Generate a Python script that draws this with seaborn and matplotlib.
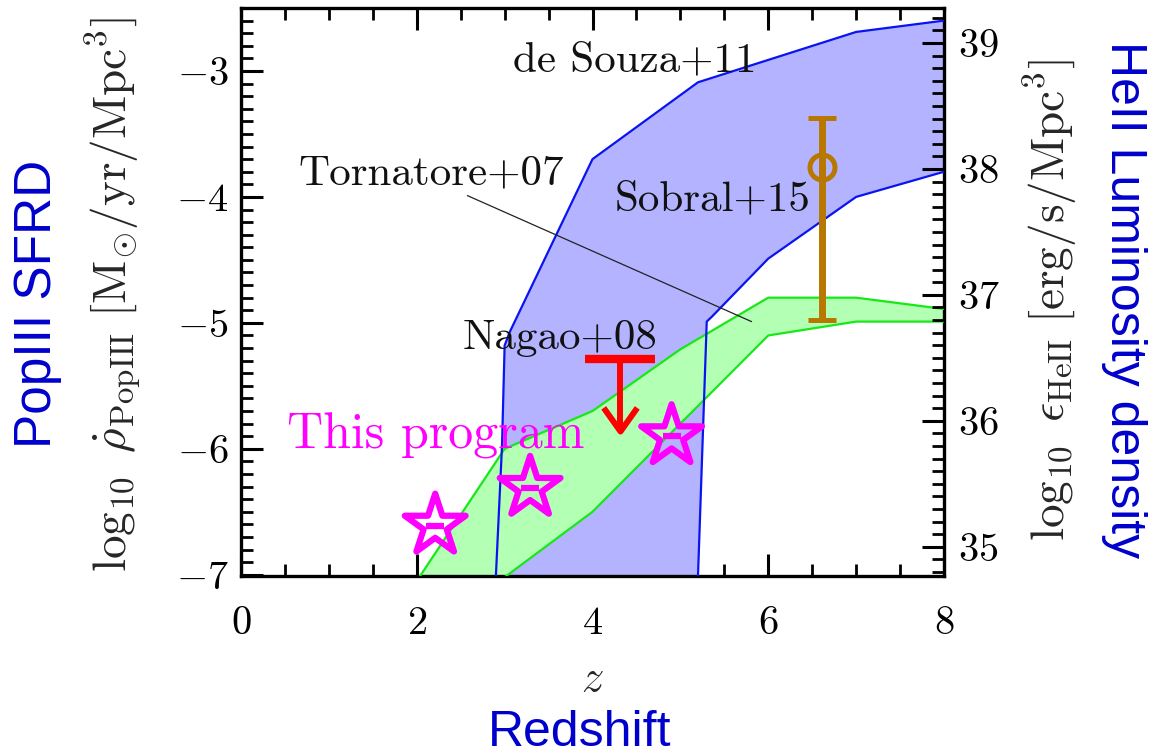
import numpy as np
import matplotlib
matplotlib.use("Agg")
import matplotlib.pyplot as plt
import matplotlib.lines as mlines
from matplotlib.path import Path
from matplotlib.ticker import MultipleLocator
import seaborn as sns

# ---------------- data ----------------
# de Souza+11 band (blue)
souza_upper_z = [2.90, 2.97, 3.00, 3.06, 4.00, 5.20, 7.00, 8.00]
souza_upper_y = [-7.02, -5.98, -5.18, -5.07, -3.70, -3.09, -2.69, -2.60]
souza_lower_z = [5.20, 5.30, 5.36, 6.00, 7.00, 8.00]
souza_lower_y = [-7.02, -4.99, -4.95, -4.49, -4.00, -3.80]

# Tornatore+07 band (green)
torn_upper_z = [2.00, 3.00, 4.00, 5.00, 6.00, 7.00, 8.00]
torn_upper_y = [-7.05, -6.00, -5.70, -5.21, -4.80, -4.80, -4.89]
torn_lower_z = [3.00, 4.00, 5.00, 6.00, 7.00, 8.00]
torn_lower_y = [-7.02, -6.50, -5.80, -5.10, -4.99, -4.99]

# Sobral+15
sobral_z = [6.61]
sobral_y = [-3.76]
sobral_err_lo = [1.22]
sobral_err_hi = [0.39]

# Nagao+08 upper limit
nagao_z = [4.31]
nagao_y = [-5.29]
nagao_arrow = [0.57]

# This program
prog_z = [2.21, 3.29, 4.90]
prog_y = [-6.61, -6.31, -5.90]

# annotations: (text, z, y)
ann_souza = ("de Souza+11", 4.48, -3.00)
ann_torn = ("Tornatore+07", 2.16, -3.90)
ann_torn_tip = (5.81, -4.99)
ann_sobral = ("Sobral+15", 5.37, -4.11)
ann_nagao = ("Nagao+08", 3.63, -5.21)
ann_prog = ("This program", 2.22, -6.00)

x_lim = (0, 8)
y_lim = (-7.01, -2.5)
lum_offset = 41.778   # log eps_HeII = log rho + offset

# ---------------- style ----------------
sns.set_theme(style="ticks")
plt.rcParams["font.family"] = ["cmr10", "DejaVu Serif"]
plt.rcParams["mathtext.fontset"] = "cm"
plt.rcParams["axes.formatter.use_mathtext"] = True
plt.rcParams["axes.unicode_minus"] = True

BLUE_FILL = "#B3B3FF"
BLUE_LINE = "#0A14F0"
GREEN_FILL = "#B3FFB3"
GREEN_LINE = "#18E818"
SOBRAL_C = "#B87800"
NAGAO_C = "#FF0000"
PROG_C = "#FF00FF"
LABEL_BLUE = "#0000CC"

fig = plt.figure(figsize=(11.53, 7.54), dpi=100)
W, H = 1153, 754
ax = fig.add_axes([241 / W, 1 - 576 / H, (944 - 241) / W, (576 - 8) / H])

# bands
ax.fill(np.r_[souza_upper_z, souza_lower_z[::-1]],
        np.r_[souza_upper_y, souza_lower_y[::-1]],
        color=BLUE_FILL, lw=0, zorder=1)
ax.fill(np.r_[torn_upper_z, torn_lower_z[::-1]],
        np.r_[torn_upper_y, torn_lower_y[::-1]],
        color=GREEN_FILL, lw=0, zorder=2)

for zz, yy, c in [(torn_upper_z, torn_upper_y, GREEN_LINE),
                  (torn_lower_z, torn_lower_y, GREEN_LINE),
                  (souza_upper_z, souza_upper_y, BLUE_LINE),
                  (souza_lower_z, souza_lower_y, BLUE_LINE)]:
    sns.lineplot(x=zz, y=yy, sort=False, estimator=None, color=c,
                 lw=1.6, ax=ax, zorder=3)

# Tornatore annotation line + text
ax.annotate(ann_torn[0], xy=ann_torn_tip, xytext=(ann_torn[1], ann_torn[2]),
            ha="center", va="baseline", fontsize=31, color="#111111",
            arrowprops=dict(arrowstyle="-", color="#222222", lw=0.9,
                            shrinkA=0, shrinkB=0, relpos=(0.61, 0.0)),
            zorder=4)
for t, zx, yx in [ann_souza, ann_sobral, ann_nagao]:
    ax.text(zx, yx, t, ha="center", va="baseline", fontsize=31,
            color="#111111", zorder=4)
ax.text(ann_prog[1], ann_prog[2], ann_prog[0], ha="center", va="baseline",
        fontsize=36, color=PROG_C, zorder=4)

# Sobral+15
ax.errorbar(sobral_z, sobral_y, yerr=[sobral_err_lo, sobral_err_hi],
            fmt="o", ms=18, mfc="none", mec=SOBRAL_C, mew=3.6,
            ecolor=SOBRAL_C, elinewidth=5, capsize=10, capthick=4.5,
            zorder=6)

# Nagao+08 upper limit
vpath = Path([(-0.71, 1.0), (0.0, 0.0), (0.71, 1.0)],
             [Path.MOVETO, Path.LINETO, Path.LINETO])
eb = ax.errorbar(nagao_z, nagao_y, yerr=[nagao_arrow, [0.0]], uplims=True,
                 fmt="none", ecolor=NAGAO_C, elinewidth=4.3, capsize=25,
                 capthick=6, zorder=6)
for cl in eb[1]:
    if cl.get_marker() == mlines.CARETDOWNBASE:
        cl.set_marker(vpath)
        cl.set_markersize(34)
        cl.set_markerfacecolor("none")
        cl.set_markeredgecolor(NAGAO_C)
        cl.set_markeredgewidth(4.3)

# This program stars
sns.scatterplot(x=prog_z, y=prog_y, marker="*", s=46 ** 2, color=PROG_C,
                facecolor="none", edgecolor=PROG_C, linewidth=4.5,
                ax=ax, zorder=7, legend=False)
ax.plot(prog_z, prog_y, ls="none", marker="_", ms=13, mew=4.5,
        color=PROG_C, zorder=8)

# axes
ax.set_xlim(*x_lim)
ax.set_ylim(*y_lim)
ax.set_xlabel("")
ax.set_ylabel("")
ax.xaxis.set_major_locator(MultipleLocator(2))
ax.xaxis.set_minor_locator(MultipleLocator(0.5))
ax.yaxis.set_major_locator(MultipleLocator(1))
ax.yaxis.set_minor_locator(MultipleLocator(0.1))
ax.tick_params(which="both", direction="in", top=True, bottom=True,
               left=True, right=False, colors="black")
ax.tick_params(which="major", length=16, width=2.2, labelsize=29)
ax.tick_params(which="minor", length=8.5, width=2.0)
ax.tick_params(axis="x", which="major", pad=22)
ax.tick_params(axis="y", which="major", pad=9)
for s in ax.spines.values():
    s.set_linewidth(2.4)
    s.set_color("black")

ax2 = ax.twinx()
ax2.set_ylim(y_lim[0] + lum_offset, y_lim[1] + lum_offset)
ax2.yaxis.set_major_locator(MultipleLocator(1))
ax2.yaxis.set_minor_locator(MultipleLocator(0.1))
ax2.tick_params(which="both", direction="in", right=True, left=False,
                colors="black")
ax2.tick_params(which="major", length=16, width=2.2, labelsize=29, pad=10)
ax2.tick_params(which="minor", length=8.5, width=2.0)
for s in ax2.spines.values():
    s.set_visible(False)

# axis titles
fig.text(113 / W, 1 - 295 / H,
         r"$\log_{10}\ \dot{\rho}_{\rm PopIII}\ [{\rm M}_{\odot}/{\rm yr}/{\rm Mpc}^3]$",
         rotation=90, ha="center", va="center", fontsize=34)
fig.text(1050 / W, 1 - 300 / H,
         r"$\log_{10}\ \epsilon_{\rm HeII}\ [{\rm erg}/{\rm s}/{\rm Mpc}^3]$",
         rotation=90, ha="center", va="center", fontsize=34)
fig.text(592 / W, 1 - 680 / H, r"$z$", ha="center", va="center", fontsize=32)

fig.text(38 / W, 1 - 304 / H, "PopIII SFRD", rotation=90, ha="center",
         va="center", fontsize=37, color=LABEL_BLUE, family="Liberation Sans")
fig.text(1124 / W, 1 - 300 / H, "HeII Luminosity density", rotation=-90,
         ha="center", va="center", fontsize=36, color=LABEL_BLUE,
         family="Liberation Sans")
fig.text(580 / W, 1 - 746 / H, "Redshift", ha="center", va="baseline",
         fontsize=36, color=LABEL_BLUE, family="Liberation Sans")

fig.savefig("out.png", dpi=100)
